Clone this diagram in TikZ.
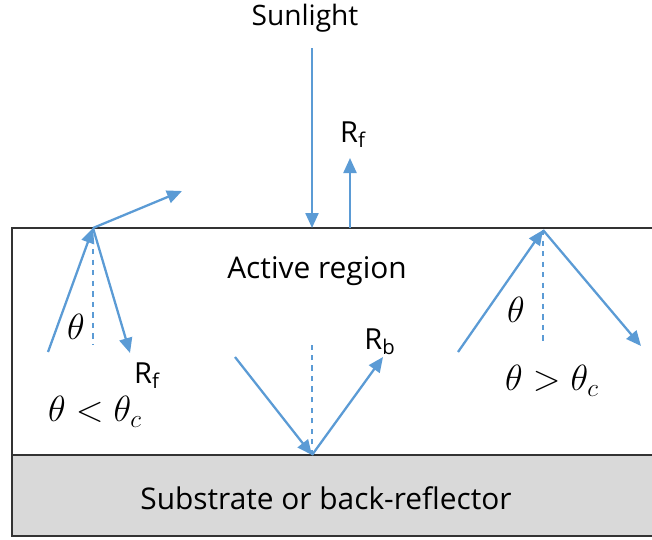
\documentclass[tikz,border=0pt]{standalone}
\usepackage{fontspec}
\setmainfont{Open Sans}
\usetikzlibrary{arrows.meta}
\definecolor{raybl}{HTML}{5B9BD5}
\definecolor{subgray}{HTML}{D9D9D9}

\begin{document}
\begin{tikzpicture}[x=0.02cm, y=-0.02cm,
    ray/.style={-{Triangle[length=3mm,width=2.6mm]}, line width=1.3pt, raybl},
    normal/.style={dashed, line width=1pt, raybl},
    lbl/.style={font=\fontsize{16.5}{19}\selectfont, inner sep=0pt},
    blbl/.style={font=\fontsize{17}{20}\selectfont, inner sep=0pt},
    mlbl/.style={font=\fontsize{21.5}{24}\selectfont, inner sep=0pt}
]
\useasboundingbox (0,0) rectangle (652,539);
\clip (0,0) rectangle (652,539);

% layers
\filldraw[draw=black!80, fill=subgray, line width=1.2pt] (12,455) rectangle (670,536);
\draw[black!80, line width=1.2pt] (12,455) -- (12,228) -- (670,228);
\node[blbl] (active) at (317,271) {Active region};
\node[blbl] (subst) at (326,498) {Substrate or back-reflector};

% sunlight
\node[blbl, font=\fontsize{16}{19}\selectfont] (sun) at (305,18) {Sunlight};
\coordinate (sunhit) at (312,228);
\coordinate (sunsrc) at (312,48);
\draw[ray] (sunsrc) -- (sunhit);
\coordinate (rfbase) at (350,228);
\coordinate (rftip) at (350,158);
\draw[ray] (rfbase) -- (rftip);
\node[lbl] (rftop) at (353,135) {R\textsubscript{f}};

% theta < theta_c
\coordinate (lsrc) at (48,352);
\coordinate (lhit) at (93,228);
\coordinate (lout) at (182,191);
\coordinate (lref) at (130,353);
\coordinate (lnorm) at (93,345);
\draw[ray] (lsrc) -- (lhit);
\draw[ray] (lhit) -- (lout);
\draw[ray] (lhit) -- (lref);
\draw[normal] (lhit) -- (lnorm);
\node[mlbl] (lth) at (76,327) {$\theta$};
\node[lbl] (rfleft) at (147,376) {R\textsubscript{f}};
\node[mlbl] (lcond) at (95,412) {$\theta < \theta_c$};

% back reflection
\coordinate (bsrc) at (235,357);
\coordinate (bhit) at (312,455);
\coordinate (bout) at (383,357);
\coordinate (bnorm) at (312,345);
\draw[ray] (bsrc) -- (bhit);
\draw[ray] (bhit) -- (bout);
\draw[normal] (bhit) -- (bnorm);
\node[lbl] (rb) at (380,342) {R\textsubscript{b}};

% theta > theta_c
\coordinate (rsrc) at (458,352);
\coordinate (rhit) at (543,230);
\coordinate (rref) at (641,346);
\coordinate (rnorm) at (543,343);
\draw[ray] (rsrc) -- (rhit);
\draw[ray] (rhit) -- (rref);
\draw[normal] (rhit) -- (rnorm);
\node[mlbl] (rth) at (516,310) {$\theta$};
\node[mlbl] (rcond) at (552,381) {$\theta > \theta_c$};
\end{tikzpicture}
\end{document}
